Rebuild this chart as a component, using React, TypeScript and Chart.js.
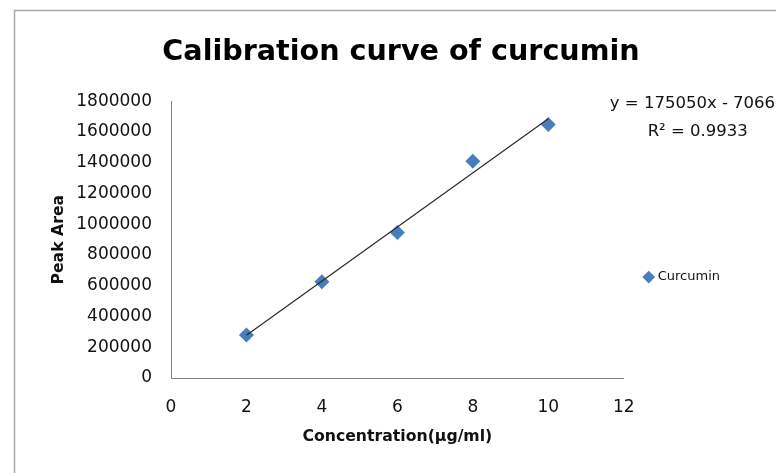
import React, { useEffect, useRef } from "react";
import { Chart, registerables } from "chart.js";

Chart.register(...registerables);

const CONCENTRATION = [2, 4, 6, 8, 10];
const PEAK_AREA = [280000, 626000, 946000, 1410000, 1650000];
const SERIES_LABEL = "Curcumin";
const CHART_TITLE = "Calibration curve of curcumin";
const X_TITLE = "Concentration(\u00b5g/ml)";
const Y_TITLE = "Peak Area";
const EQUATION_TEXT = "y = 175050x - 70660";
const R2_TEXT = "R\u00b2 = 0.9933";
const X_MIN = 0;
const X_MAX = 12;
const X_STEP = 2;
const Y_MIN = 0;
const Y_MAX = 1800000;
const Y_STEP = 200000;

const FONT = "'DejaVu Sans', sans-serif";

function leastSquares(xs: number[], ys: number[]) {
  const n = xs.length;
  const mx = xs.reduce((a, b) => a + b, 0) / n;
  const my = ys.reduce((a, b) => a + b, 0) / n;
  let sxy = 0;
  let sxx = 0;
  for (let i = 0; i < n; i++) {
    sxy += (xs[i] - mx) * (ys[i] - my);
    sxx += (xs[i] - mx) * (xs[i] - mx);
  }
  const slope = sxy / sxx;
  return { slope, intercept: my - slope * mx };
}

const framePlugin = {
  id: "framePlugin",
  beforeDraw(chart: any) {
    const { ctx, width, height } = chart;
    ctx.save();
    ctx.fillStyle = "#ffffff";
    ctx.fillRect(0, 0, width, height);
    ctx.strokeStyle = "#a6a6a6";
    ctx.lineWidth = 1.5;
    ctx.strokeRect(14.5, 10.5, width + 20, height + 20);
    ctx.restore();
  },
  afterLayout(chart: any) {
    const lg = chart.legend;
    if (lg) {
      const target = chart.chartArea.top + (chart.chartArea.bottom - chart.chartArea.top) * 0.635;
      const d = target - (lg.top + lg.bottom) / 2;
      lg.top += d;
      lg.bottom += d;
    }
  },
  afterDraw(chart: any) {
    const { ctx, chartArea } = chart;
    ctx.save();
    ctx.fillStyle = "#111";
    ctx.font = `16.5px ${FONT}`;
    ctx.textAlign = "center";
    ctx.textBaseline = "middle";
    const cx = chartArea.right + 74;
    ctx.fillText(EQUATION_TEXT, cx, chartArea.top + 2);
    ctx.fillText(R2_TEXT, cx, chartArea.top + 30);
    ctx.restore();
  },
};

export default function App() {
  const ref = useRef<HTMLCanvasElement | null>(null);

  useEffect(() => {
    if (!ref.current) return;
    const { slope, intercept } = leastSquares(CONCENTRATION, PEAK_AREA);
    const xFirst = CONCENTRATION[0];
    const xLast = CONCENTRATION[CONCENTRATION.length - 1];
    const trend = [
      { x: xFirst, y: slope * xFirst + intercept },
      { x: xLast, y: slope * xLast + intercept },
    ];
    const points = CONCENTRATION.map((x, i) => ({ x, y: PEAK_AREA[i] }));

    const chart = new Chart(ref.current, {
      type: "scatter",
      data: {
        datasets: [
          {
            label: "Linear (Curcumin)",
            data: trend,
            showLine: true,
            borderColor: "#2a2a2a",
            borderWidth: 1.2,
            pointRadius: 0,
            order: 0,
          } as any,
          {
            label: SERIES_LABEL,
            data: points,
            pointStyle: "rectRot",
            pointRadius: 7.5,
            backgroundColor: "#4a7ebb",
            borderColor: "#4a7ebb",
            borderWidth: 0,
            order: 1,
          } as any,
        ],
      },
      options: {
        animation: false,
        responsive: false,
        devicePixelRatio: 1,
        layout: { padding: { left: 72, right: 46, top: 0, bottom: 0 } },
        plugins: {
          title: {
            display: true,
            text: CHART_TITLE,
            color: "#000",
            font: { family: FONT, size: 28.6, weight: "bold" },
            padding: { top: 35, bottom: 32 },
          },
          legend: {
            position: "right",
            labels: {
              usePointStyle: true,
              pointStyle: "rectRot",
              boxWidth: 5,
              boxHeight: 9,
              padding: 22.5,
              color: "#111",
              font: { family: FONT, size: 13 },
              filter: (item: any) => item.text === SERIES_LABEL,
            },
          },
          tooltip: { enabled: false },
        },
        scales: {
          x: {
            type: "linear",
            min: X_MIN,
            max: X_MAX,
            ticks: {
              stepSize: X_STEP,
              padding: 19,
              color: "#111",
              font: { family: FONT, size: 17 },
            },
            grid: { drawOnChartArea: false, drawTicks: false },
            border: { display: true, color: "#868686", width: 1 },
            title: {
              display: true,
              text: X_TITLE,
              color: "#111",
              font: { family: FONT, size: 15.7, weight: "bold" },
              padding: { top: 0, bottom: 27 },
            },
            afterFit: (s: any) => {
              s.height = 95;
            },
          },
          y: {
            type: "linear",
            min: Y_MIN,
            max: Y_MAX,
            ticks: {
              stepSize: Y_STEP,
              padding: 19,
              color: "#111",
              font: { family: FONT, size: 17 },
              callback: (v: any) => String(v),
            },
            grid: { drawOnChartArea: false, drawTicks: false },
            border: { display: true, color: "#868686", width: 1 },
            title: {
              display: true,
              text: Y_TITLE,
              color: "#111",
              font: { family: FONT, size: 15.7, weight: "bold" },
              padding: { top: -22.4, bottom: 0 },
            },
            afterFit: (s: any) => {
              s.width = 99;
            },
          },
        },
      } as any,
      plugins: [framePlugin],
    });
    return () => chart.destroy();
  }, []);

  return (
    <div style={{ position: "fixed", left: 0, top: 0, width: 776, height: 473, background: "#fff" }}>
      <canvas ref={ref} width={776} height={473} style={{ width: 776, height: 473, display: "block" }} />
    </div>
  );
}
